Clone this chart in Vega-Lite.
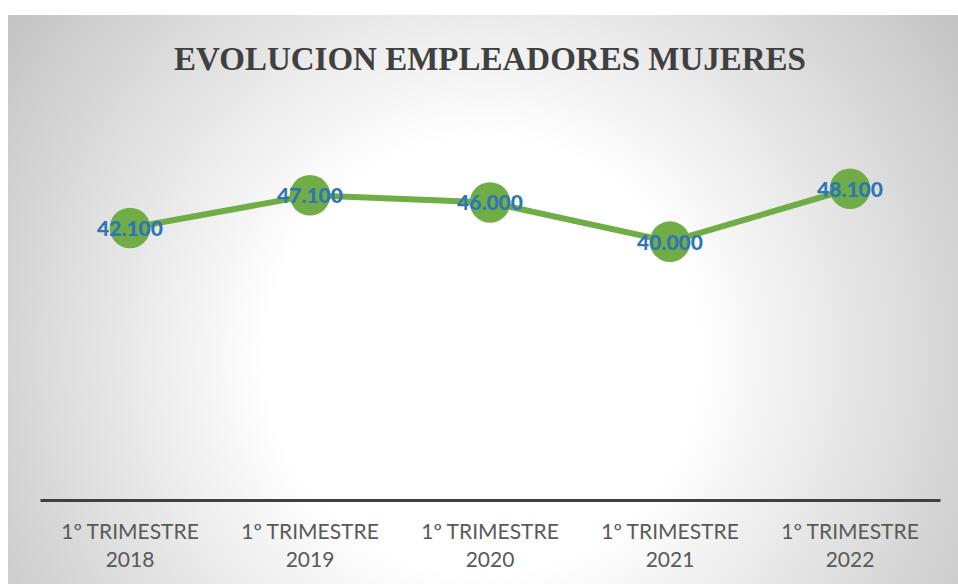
{
  "$schema": "https://vega.github.io/schema/vega-lite/v6.json",
  "width": 950,
  "height": 569,
  "autosize": "none",
  "padding": {"left": 8, "top": 15, "right": 0, "bottom": 0},
  "background": "white",
  "view": {
    "stroke": null,
    "fill": {
      "gradient": "radial",
      "x1": 0.5, "y1": 0.56, "r1": 0,
      "x2": 0.5, "y2": 0.56, "r2": 0.65,
      "stops": [
        {"offset": 0, "color": "#ffffff"},
        {"offset": 0.35, "color": "#ffffff"},
        {"offset": 1, "color": "#bebebe"}
      ]
    }
  },
  "title": {
    "text": "EVOLUCION EMPLEADORES MUJERES",
    "font": "Liberation Serif",
    "fontSize": 33,
    "fontWeight": "bold",
    "color": "#404040",
    "anchor": "middle",
    "offset": -62,
    "dx": 7
  },
  "config": {
    "locale": {"number": {"decimal": ",", "thousands": ".", "grouping": [3], "currency": ["", " €"]}}
  },
  "data": {
    "values": [
      {"periodo": "1º TRIMESTRE 2018", "empleadoras": 42100},
      {"periodo": "1º TRIMESTRE 2019", "empleadoras": 47100},
      {"periodo": "1º TRIMESTRE 2020", "empleadoras": 46000},
      {"periodo": "1º TRIMESTRE 2021", "empleadoras": 40000},
      {"periodo": "1º TRIMESTRE 2022", "empleadoras": 48100}
    ]
  },
  "encoding": {
    "x": {
      "field": "periodo",
      "type": "nominal",
      "sort": null,
      "scale": {"type": "band", "range": [32, 932], "paddingInner": 0, "paddingOuter": 0},
      "axis": {
        "title": null,
        "grid": false,
        "domainColor": "#404040",
        "domainWidth": 3,
        "ticks": false,
        "labelFont": "Lato",
        "labelFontSize": 21,
        "labelColor": "#595959",
        "labelPadding": 21,
        "labelLineHeight": 28,
        "labelAngle": 0,
        "offset": -84,
        "labelExpr": "[slice(datum.label, 0, 12), slice(datum.label, 13)]"
      }
    },
    "y": {
      "field": "empleadoras",
      "type": "quantitative",
      "scale": {"domain": [0, 60000], "range": [488, 96]},
      "axis": null
    }
  },
  "layer": [
    {"mark": {"type": "line", "color": "#70AD47", "strokeWidth": 6}},
    {"mark": {"type": "circle", "color": "#70AD47", "opacity": 1, "size": 1650}},
    {
      "mark": {"type": "text", "color": "#2E75B6", "font": "Lato", "fontWeight": 900, "fontSize": 21, "baseline": "middle", "dy": 2},
      "encoding": {"text": {"field": "empleadoras", "type": "quantitative", "format": ",.0f"}}
    }
  ]
}
